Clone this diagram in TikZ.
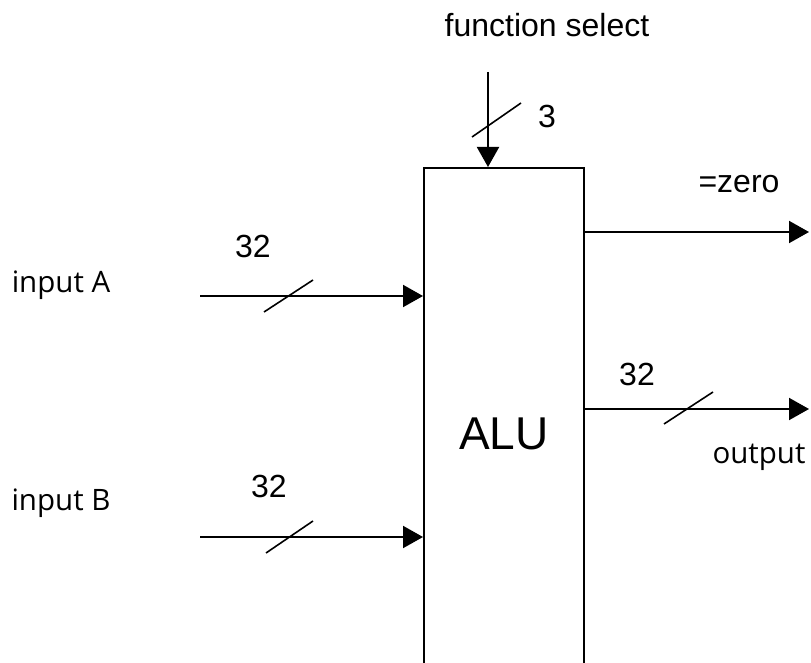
\documentclass[tikz,border=0pt]{standalone}
\usepackage{fontspec}
\setmainfont{Liberation Sans}
\newfontfamily\osans{Open Sans}
\usetikzlibrary{arrows.meta}
\begin{document}
\begin{tikzpicture}[x=1pt,y=-1pt,
  wire/.style={line width=2pt,-{Triangle[length=20pt,width=22pt]}},
  busmark/.style={line width=1.6pt},
  lbl/.style={anchor=base,inner sep=0pt,font=\fontsize{32}{38}\selectfont},
  sidelbl/.style={anchor=base,inner sep=0pt,font=\osans\fontsize{29.5}{35}\selectfont},
  blockbox/.style={draw,line width=2pt,minimum width=160pt,minimum height=532pt,inner sep=0pt,font=\fontsize{46}{54}\selectfont}]
\useasboundingbox (0,0) rectangle (811,663);
\clip (0,0) rectangle (811,663);
\fill[white] (0,0) rectangle (811,663);
\node[blockbox] (alu) at (504,434) {ALU};
% connector end points
\coordinate (fs) at (488,72);
\coordinate (ina) at (200,296);
\coordinate (inb) at (200,537);
\coordinate (zeroend) at (809,232);
\coordinate (outend) at (809,409);
% connectors
\draw[wire] (fs) -- (fs |- alu.north);
\draw[wire] (ina) -- (ina -| alu.west);
\draw[wire] (inb) -- (inb -| alu.west);
\draw[wire] (zeroend -| alu.east) -- (zeroend);
\draw[wire] (outend -| alu.east) -- (outend);
% bus width marks
\draw[busmark] (472,137) -- (521,103);
\draw[busmark] (264,312) -- (313,280);
\draw[busmark] (266,553) -- (313,521);
\draw[busmark] (664,424) -- (713,392);
% labels
\node[lbl] (tfs) at (547,37) {function select};
\node[lbl] (t3) at (547,128) {3};
\node[lbl] (t32a) at (253,257) {32};
\node[lbl] (t32b) at (269,497) {32};
\node[lbl] (t32o) at (637,385) {32};
\node[lbl] (tzero) at (739,193) {=zero};
\node[sidelbl] (tina) at (61,292) {input A};
\node[sidelbl] (tinb) at (61,510) {input B};
\node[sidelbl] (tout) at (759,463) {output};
\end{tikzpicture}
\end{document}
